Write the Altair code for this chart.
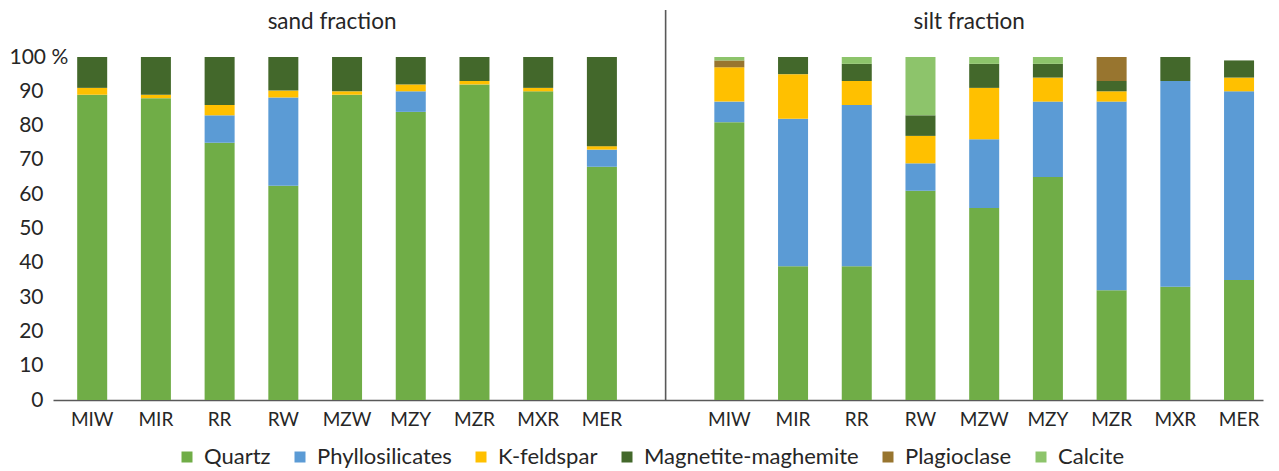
import altair as alt
import pandas as pd

samples = ["MIW", "MIR", "RR", "RW", "MZW", "MZY", "MZR", "MXR", "MER"]
minerals = ["Quartz", "Phyllosilicates", "K-feldspar", "Magnetite-maghemite", "Plagioclase", "Calcite"]
colors = ["#70AD47", "#5B9BD5", "#FFC000", "#43682B", "#98752F", "#8DC46B"]

# sand fraction (%)
sand_quartz = [89, 88, 75, 62.5, 89, 84, 92, 90, 68]
sand_phyllo = [0, 0, 8, 25.7, 0, 6, 0, 0, 5]
sand_kfs = [2, 1, 3, 2, 1, 2, 1, 1, 1]
sand_mag = [9, 11, 14, 9.8, 10, 8, 7, 9, 26]
sand_plag = [0, 0, 0, 0, 0, 0, 0, 0, 0]
sand_calc = [0, 0, 0, 0, 0, 0, 0, 0, 0]

# silt fraction (%)
silt_quartz = [81, 39, 39, 61, 56, 65, 32, 33, 35]
silt_phyllo = [6, 43, 47, 8, 20, 22, 55, 60, 55]
silt_kfs = [10, 13, 7, 8, 15, 7, 3, 0, 4]
silt_mag = [0, 5, 5, 6, 7, 4, 3, 7, 5]
silt_plag = [2, 0, 0, 0, 0, 0, 7, 0, 0]
silt_calc = [1, 0, 2, 17, 2, 2, 0, 0, 0]

sand = [sand_quartz, sand_phyllo, sand_kfs, sand_mag, sand_plag, sand_calc]
silt = [silt_quartz, silt_phyllo, silt_kfs, silt_mag, silt_plag, silt_calc]

domain = ["s_" + s for s in samples] + ["g_"] + ["t_" + s for s in samples]

rows = []
for prefix, series in (("s_", sand), ("t_", silt)):
    for mi, vals in enumerate(series):
        for si, s in enumerate(samples):
            if vals[si] > 0:
                rows.append({"key": prefix + s, "mineral": minerals[mi], "idx": mi, "value": vals[si]})
df = pd.DataFrame(rows)

FONT = "Lato"
TXT = "#262626"

bars = alt.Chart(df).mark_bar().encode(
    x=alt.X("key:N", sort=domain,
            scale=alt.Scale(domain=domain, paddingInner=0.529, paddingOuter=0.26, align=0.73),
            axis=alt.Axis(title=None, labelExpr="substring(datum.label, 2)", ticks=False,
                          domainColor="#595959", domainWidth=1.6, labelAngle=0,
                          labelFont=FONT, labelFontSize=19, labelColor=TXT, labelPadding=10)),
    y=alt.Y("value:Q", stack="zero",
            scale=alt.Scale(domain=[0, 100], nice=False),
            axis=alt.Axis(title=None, values=list(range(0, 101, 10)), grid=False, domain=False,
                          ticks=False, labelFont=FONT, labelFontSize=21, labelColor=TXT,
                          labelExpr="datum.value == 100 ? '100 %' : datum.label",
                          labelAlign={"condition": {"test": "datum.value == 100", "value": "left"}, "value": "right"},
                          labelPadding={"condition": {"test": "datum.value == 100", "value": 44}, "value": 10})),
    color=alt.Color("mineral:N", scale=alt.Scale(domain=minerals, range=colors),
                    legend=alt.Legend(orient="none", legendX=123, legendY=389, direction="horizontal",
                                      title=None, symbolType="square", symbolSize=121,
                                      symbolStrokeWidth=0, labelFont=FONT, labelFontSize=22,
                                      labelColor=TXT, columnPadding=18, labelOffset=6, labelLimit=400)),
    order=alt.Order("idx:Q", sort="ascending"),
)

div_df = pd.DataFrame({"key": ["g_"]})
divider = alt.Chart(div_df).mark_rule(color="#595959", strokeWidth=1.6).encode(
    x=alt.X("key:N"), y=alt.value(-47), y2=alt.value(343)
)

titles_df = pd.DataFrame({"key": ["s_MZW", "t_MZW"], "t": ["sand fraction", "silt fraction"]})
titles = alt.Chart(titles_df).mark_text(font=FONT, fontSize=22.5, color=TXT, dx=-15, baseline="middle").encode(
    x=alt.X("key:N"), y=alt.value(-35), text="t:N"
)

chart = alt.layer(bars, divider, titles).properties(
    width=1210, height=343,
    padding={"left": 53, "top": 57, "right": 16, "bottom": 71},
    autosize=alt.AutoSizeParams(type="none"),
).configure_view(stroke=None)

chart.save("out.html", embed_options={"renderer": "svg", "actions": False})
